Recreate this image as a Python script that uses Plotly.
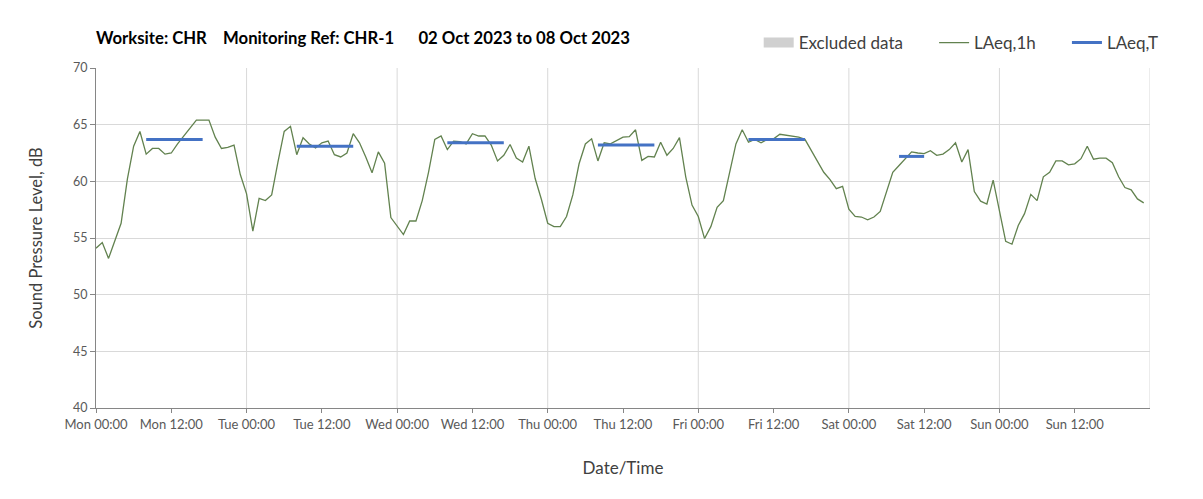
import plotly.graph_objects as go

# Hourly LAeq,1h values (dB) per day, 00:00 .. 23:00
mon = [54.1, 54.6, 53.2, 54.8, 56.3, 60.2, 63.1, 64.4, 62.4, 62.9, 62.9, 62.4,
       62.5, 63.3, 64.0, 64.6, 65.4, 65.4, 65.4, 63.9, 62.9, 63.0, 63.2, 60.6]
tue = [58.9, 55.6, 58.5, 58.3, 58.8, 61.7, 64.4, 64.85, 62.35, 63.85, 63.3, 62.95,
       63.4, 63.55, 62.35, 62.15, 62.5, 64.2, 63.4, 62.15, 60.75, 62.6, 61.6, 56.8]
wed = [56.0, 55.3, 56.5, 56.5, 58.3, 60.8, 63.7, 64.0, 62.8, 63.55, 63.5, 63.3,
       64.2, 64.0, 64.0, 63.2, 61.8, 62.3, 63.25, 62.05, 61.7, 63.1, 60.25, 58.4]
thu = [56.3, 56.0, 56.0, 56.9, 58.8, 61.55, 63.3, 63.75, 61.8, 63.4, 63.3, 63.6,
       63.9, 63.95, 64.55, 61.85, 62.2, 62.15, 63.45, 62.3, 62.9, 63.85, 60.4, 57.9]
fri = [56.9, 54.95, 56.0, 57.7, 58.3, 60.8, 63.3, 64.55, 63.45, 63.7, 63.4, 63.7,
       63.75, 64.15, 64.05, 64.0, 63.9, 63.7, 62.75, 61.7, 60.8, 60.15, 59.35, 59.55]
sat = [57.55, 56.9, 56.85, 56.6, 56.85, 57.35, 59.1, 60.8, 61.4, 62.0, 62.6, 62.5,
       62.45, 62.7, 62.3, 62.4, 62.8, 63.4, 61.7, 62.8, 59.1, 58.25, 58.0, 60.1]
sun = [57.4, 54.7, 54.45, 56.1, 57.15, 58.85, 58.3, 60.4, 60.8, 61.8, 61.8, 61.45,
       61.55, 62.0, 63.1, 61.95, 62.05, 62.05, 61.65, 60.4, 59.45, 59.25, 58.45, 58.1]

# LAeq,T period values: start hour, end hour, level
laeq_t_start = [8, 32, 56, 80, 104, 128]
laeq_t_end = [17, 41, 65, 89, 113, 132]
laeq_t_level = [63.7, 63.1, 63.4, 63.2, 63.7, 62.2]

day_names = ["Mon", "Tue", "Wed", "Thu", "Fri", "Sat", "Sun"]
tick_hours = list(range(0, 168, 12))
tick_labels = [f"{day_names[h // 24]} {h % 24:02d}:00" for h in tick_hours]
y_ticks = [40, 45, 50, 55, 60, 65, 70]

laeq_1h = mon + tue + wed + thu + fri + sat + sun
hours = list(range(len(laeq_1h)))

bx, by = [], []
for s, e, v in zip(laeq_t_start, laeq_t_end, laeq_t_level):
    bx += [s, e, None]
    by += [v, v, None]

FONT = "Lato, Open Sans, sans-serif"
SP = "\u00a0"
W, H = 1195, 491  # page body has an 8px margin

fig = go.Figure()
fig.add_trace(go.Scatter(x=[None], y=[None], mode="lines", name="Excluded data" + SP * 6,
                         line=dict(color="#d0d0d0", width=10)))
fig.add_trace(go.Scatter(x=hours, y=laeq_1h, mode="lines", name="LAeq,1h" + SP * 6,
                         line=dict(color="#62824f", width=1.3)))
fig.add_trace(go.Scatter(x=bx, y=by, mode="lines", name="LAeq,T",
                         line=dict(color="#4472c4", width=3)))

shapes = []
for d in range(1, 8):
    shapes.append(dict(type="line", xref="x", yref="paper", x0=d * 24, x1=d * 24,
                       y0=0, y1=1, line=dict(color="#d9d9d9", width=1), layer="below"))

fig.update_layout(
    width=W, height=H,
    margin=dict(l=88, r=53, t=60, b=91, autoexpand=False),
    paper_bgcolor="white", plot_bgcolor="white",
    font=dict(family=FONT, color="#404040"),
    shapes=shapes,
    title=dict(text="<b>Worksite: CHR&nbsp;&nbsp;&nbsp;&nbsp;Monitoring Ref: CHR-1&nbsp;&nbsp;&nbsp;&nbsp;&nbsp;&nbsp;02 Oct 2023 to 08 Oct 2023</b>",
               x=88 / W, xanchor="left", y=1 - 30 / H, yanchor="middle",
               font=dict(size=16.7, color="#000000", family=FONT)),
    legend=dict(orientation="h", x=1.013, xanchor="right", y=1.0735, yanchor="middle",
                font=dict(size=17, color="#404040"), bgcolor="rgba(0,0,0,0)",
                itemwidth=30),
    showlegend=True,
)
fig.update_xaxes(range=[0, 168], tickmode="array", tickvals=tick_hours, ticktext=tick_labels,
                 showgrid=False, zeroline=False, showline=True, linecolor="#868686",
                 ticks="outside", ticklen=4, tickcolor="#868686", automargin=False,
                 tickfont=dict(size=13, color="#595959"),
                 title=dict(text="Date/Time", font=dict(size=17, color="#404040"), standoff=31))
fig.update_yaxes(range=[40, 70], tickmode="array", tickvals=y_ticks,
                 showgrid=True, gridcolor="#d9d9d9", zeroline=False, showline=True,
                 linecolor="#868686", ticks="outside", ticklen=5, tickcolor="#868686",
                 automargin=False,
                 tickfont=dict(size=12.5, color="#595959"),
                 title=dict(text="Sound Pressure Level, dB", font=dict(size=16.5, color="#404040"),
                            standoff=26))

fig.write_html("out.html")
